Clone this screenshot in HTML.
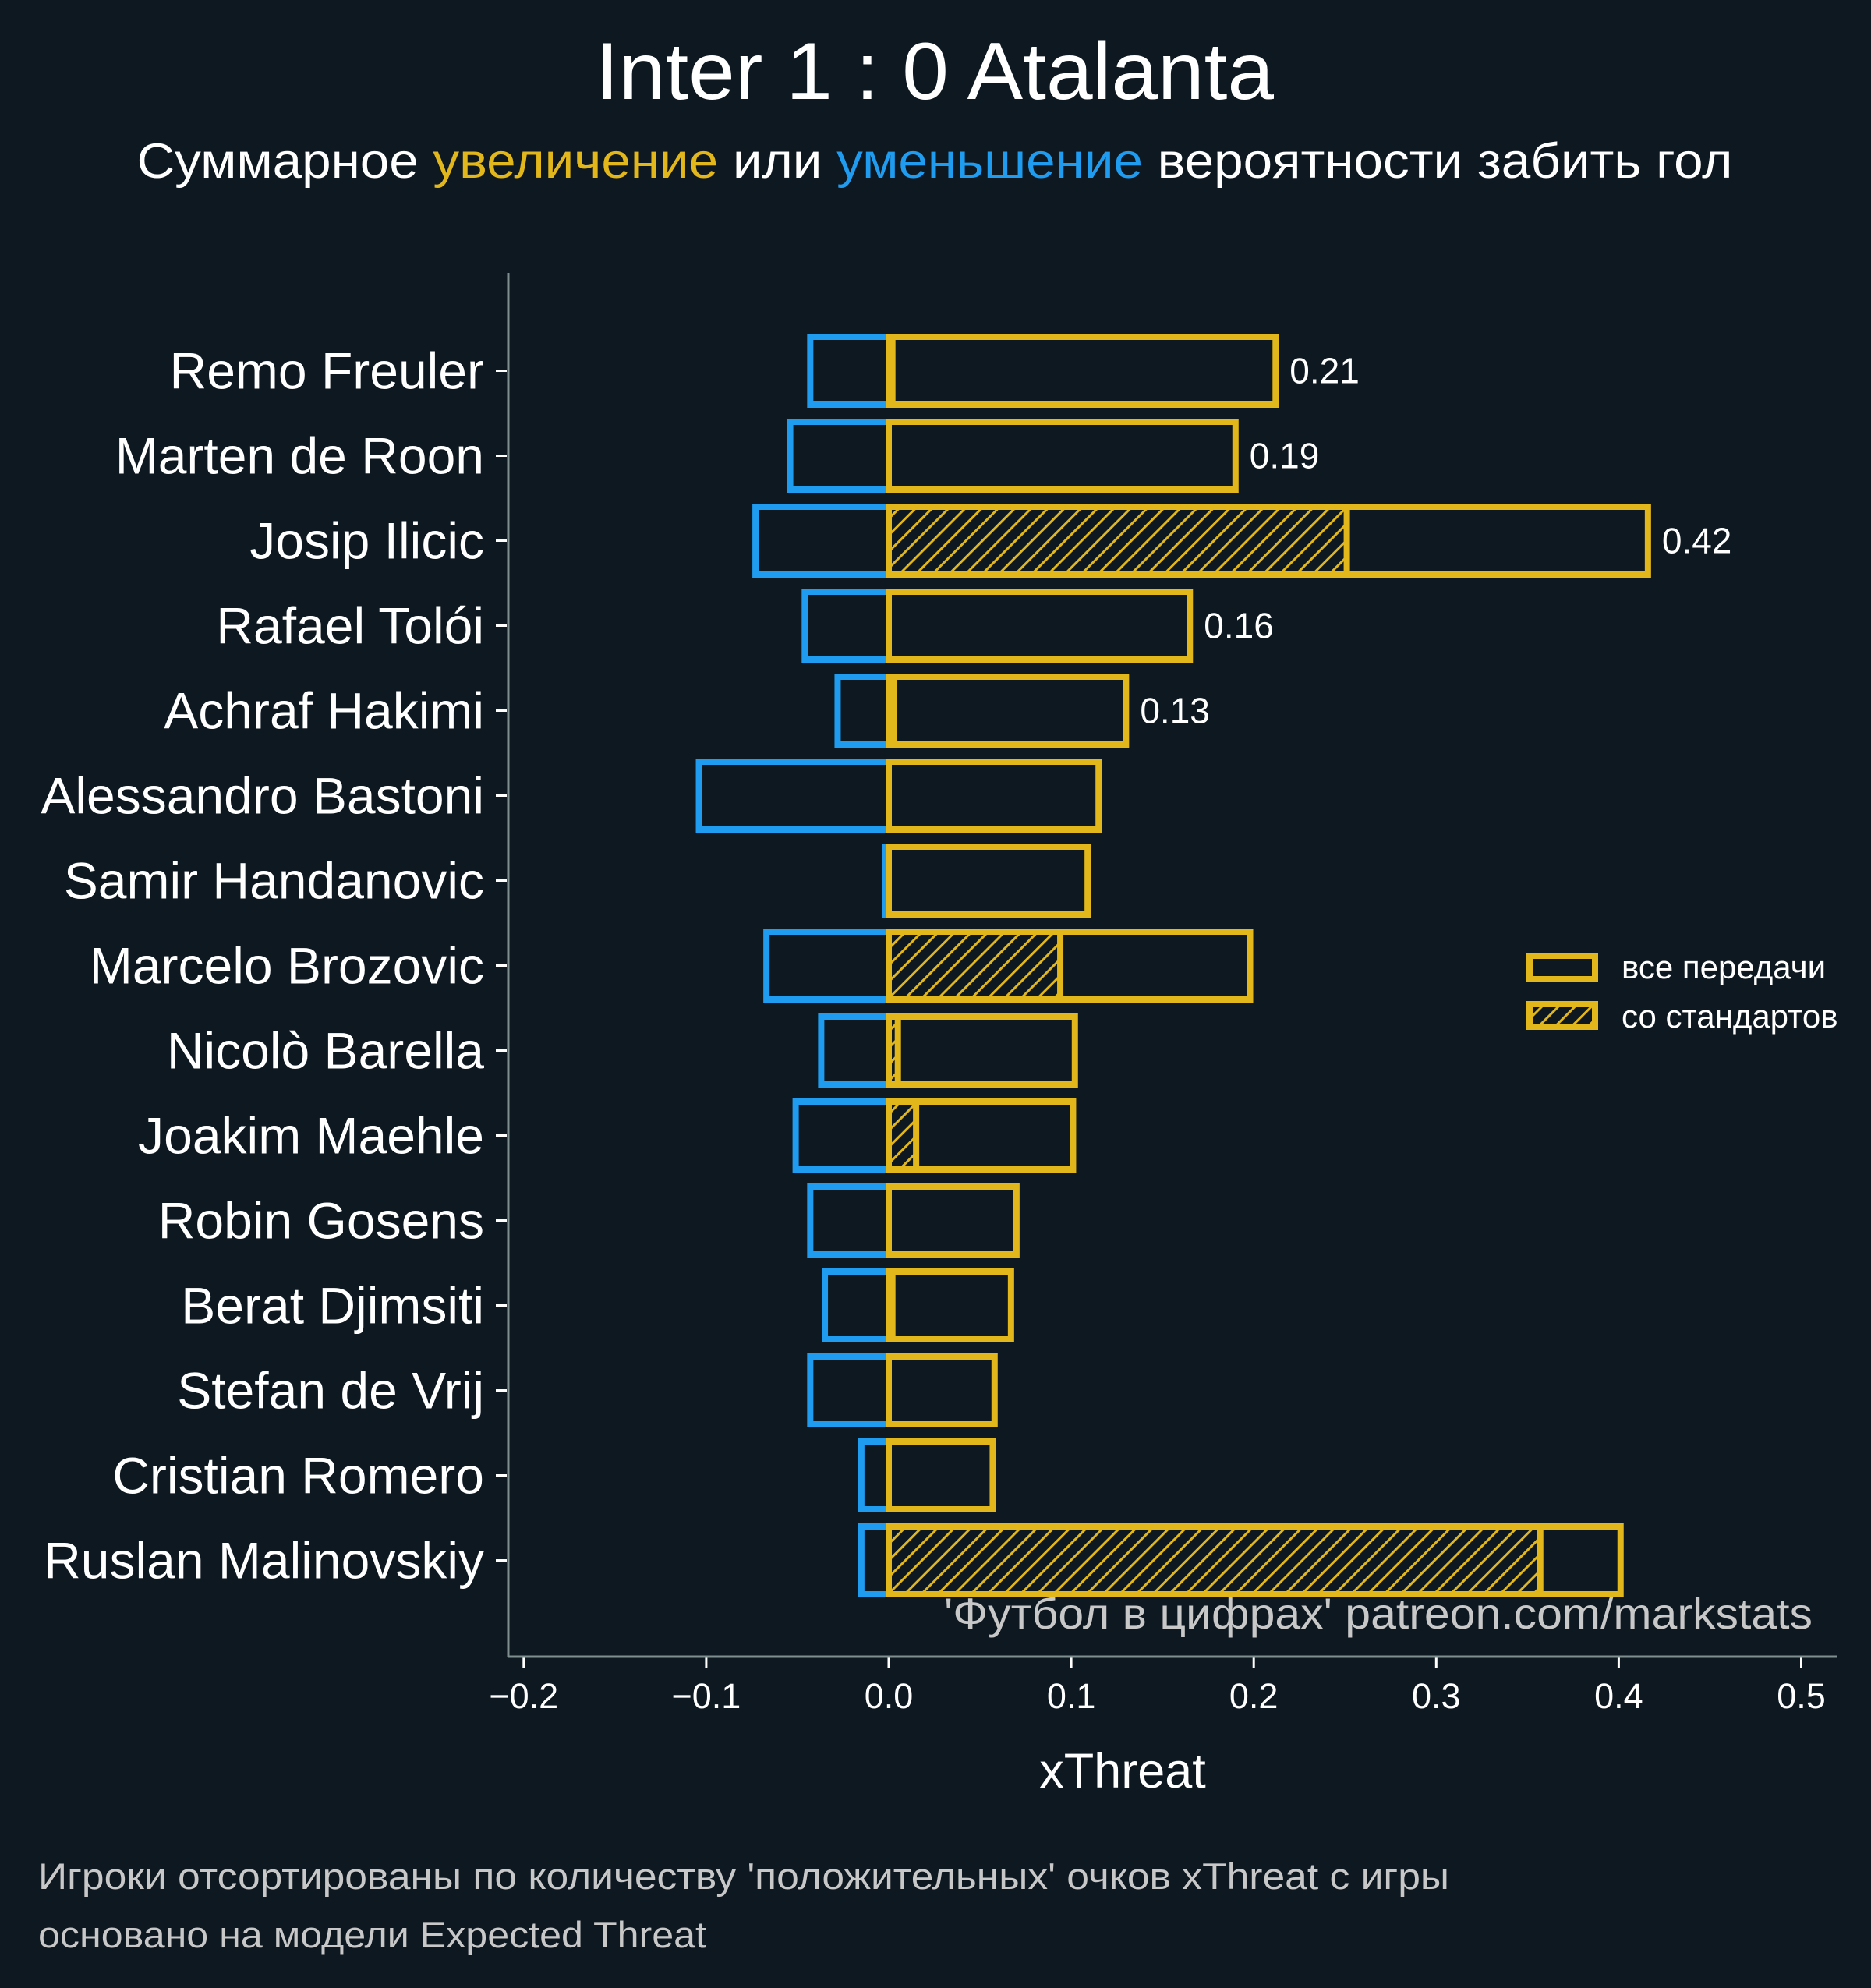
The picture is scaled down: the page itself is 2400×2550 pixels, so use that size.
<!DOCTYPE html>
<html><head><meta charset="utf-8"><style>
html,body{margin:0;padding:0;background:#0e1820;}
svg{display:block;font-family:"Liberation Sans","DejaVu Sans",sans-serif;}
</style></head><body>
<svg id="chart" width="2400" height="2550" viewBox="0 0 2400 2550" xmlns="http://www.w3.org/2000/svg">
<defs>
<pattern id="hatch" patternUnits="userSpaceOnUse" width="15" height="15" patternTransform="rotate(45)">
<rect width="15" height="15" fill="#0e1820"/>
<line x1="0" y1="0" x2="0" y2="15" stroke="#e2b71b" stroke-width="6"/>
</pattern>
</defs>
<rect width="2400" height="2550" fill="#0e1820"/>
<text x="1199" y="127" text-anchor="middle" font-size="104" fill="#ffffff" textLength="870" lengthAdjust="spacingAndGlyphs">Inter 1 : 0 Atalanta</text>
<text x="1199" y="228" text-anchor="middle" font-size="63" fill="#ffffff" textLength="2047" lengthAdjust="spacingAndGlyphs">Суммарное <tspan fill="#e2b71b">увеличение</tspan> или <tspan fill="#1f9cf0">уменьшение</tspan> вероятности забить гол</text>
<g id="plot"></g>
<line x1="652" y1="350" x2="652" y2="2126" stroke="#7f8f8f" stroke-width="3"/>
<line x1="651" y1="2125" x2="2356" y2="2125" stroke="#7f8f8f" stroke-width="3"/>
<text x="2325" y="2089" text-anchor="end" font-size="56" fill="#c8c8c8" textLength="1114" lengthAdjust="spacingAndGlyphs">'Футбол в цифрах' patreon.com/markstats</text>
<text x="1440" y="2293" text-anchor="middle" font-size="63" fill="#ffffff">xThreat</text>
<g>
<rect x="1962" y="1226" width="84" height="30" fill="#0e1820" stroke="#e2b71b" stroke-width="8"/>
<text x="2080" y="1255" font-size="42" fill="#ffffff">все передачи</text>
<rect x="1962" y="1288" width="84" height="29" fill="url(#hatch)" stroke="#e2b71b" stroke-width="8"/>
<text x="2080" y="1318" font-size="42" fill="#ffffff">со стандартов</text>
</g>
<text x="49" y="2423" font-size="47" fill="#c8c8c8" textLength="1810" lengthAdjust="spacingAndGlyphs">Игроки отсортированы по количеству 'положительных' очков xThreat с игры</text>
<text x="49" y="2498" font-size="47" fill="#c8c8c8" textLength="857" lengthAdjust="spacingAndGlyphs">основано на модели Expected Threat</text>
</svg>
<script>
const players = ["Remo Freuler","Marten de Roon","Josip Ilicic","Rafael Tolói","Achraf Hakimi","Alessandro Bastoni","Samir Handanovic","Marcelo Brozovic","Nicolò Barella","Joakim Maehle","Robin Gosens","Berat Djimsiti","Stefan de Vrij","Cristian Romero","Ruslan Malinovskiy"];
const negative = [-0.043,-0.054,-0.073,-0.046,-0.028,-0.104,-0.002,-0.067,-0.037,-0.051,-0.043,-0.035,-0.043,-0.015,-0.015];
const positive = [0.212,0.190,0.416,0.165,0.130,0.115,0.109,0.198,0.102,0.101,0.070,0.067,0.058,0.057,0.401];
const setPieces = [0.002,0,0.251,0,0.003,0,0,0.094,0.005,0.015,0,0.002,0,0,0.357];
const valueLabels = ["0.21","0.19","0.42","0.16","0.13","","","","","","","","","",""];
const xTicks = [-0.2,-0.1,0.0,0.1,0.2,0.3,0.4,0.5];
const xTickLabels = ["−0.2","−0.1","0.0","0.1","0.2","0.3","0.4","0.5"];

const NS = "http://www.w3.org/2000/svg";
const x = v => 1140 + v * 2341;
const yc = i => 475.5 + i * 109;
const BH = 87;
const g = document.getElementById('plot');
function mk(tag, attrs, parent){const e=document.createElementNS(NS,tag);for(const k in attrs)e.setAttribute(k,attrs[k]);(parent||g).appendChild(e);return e;}

players.forEach((p,i)=>{
  const cy = yc(i);
  const t = mk('text',{x:621,y:cy+23,'text-anchor':'end','font-size':66,fill:'#ffffff'});
  t.textContent = p;
  
  
  const tk = mk('line',{x1:636,y1:cy,x2:650,y2:cy,stroke:'#ffffff','stroke-width':3});
  
  

  const nb = mk('rect',{x:x(negative[i]),y:cy-BH/2,width:Math.max(0.5,x(0)-x(negative[i])),height:BH,fill:'none',stroke:'#1f9cf0','stroke-width':8});
  
  
  const pb = mk('rect',{x:x(0),y:cy-BH/2,width:x(positive[i])-x(0),height:BH,fill:'none',stroke:'#e2b71b','stroke-width':8});
  
  
  if(setPieces[i]>0){
    const hb = mk('rect',{x:x(0),y:cy-BH/2,width:x(setPieces[i])-x(0),height:BH,fill:'url(#hatch)',stroke:'#e2b71b','stroke-width':8});
    
    
  }
  if(valueLabels[i]){
    const vl = mk('text',{x:x(positive[i])+18,y:cy+16,'font-size':46,fill:'#ffffff'});
    vl.textContent = valueLabels[i];
    
    
  }
});
xTicks.forEach((v,j)=>{
  const tk = mk('line',{x1:x(v),y1:2126,x2:x(v),y2:2140,stroke:'#ffffff','stroke-width':3});
  
  
  const tl = mk('text',{x:x(v),y:2191,'text-anchor':'middle','font-size':45,fill:'#ffffff'});
  tl.textContent = xTickLabels[j];
  
  
});
</script>
</body></html>
